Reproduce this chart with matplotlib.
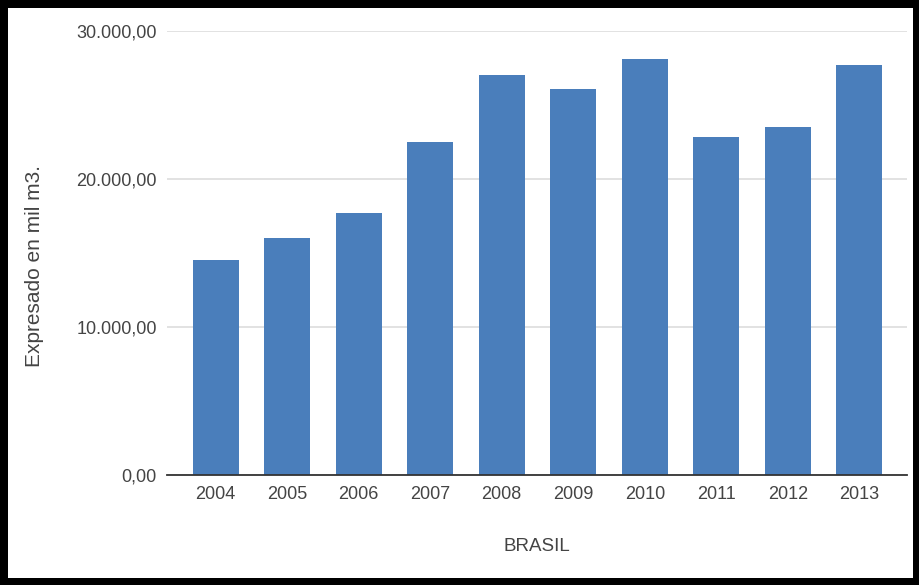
import matplotlib
matplotlib.use("Agg")
import matplotlib.pyplot as plt
from matplotlib.patches import Rectangle
from matplotlib.ticker import FuncFormatter

# Data (mil m3)
YEARS = ['2004', '2005', '2006', '2007', '2008', '2009', '2010', '2011', '2012', '2013']
VALUES = [14500, 16000, 17700, 22500, 27000, 26050, 28100, 22800, 23500, 27700]
Y_TICKS = [0, 10000, 20000, 30000]

BAR_COLOR = '#4a7ebb'
TEXT_COLOR = '#444444'

plt.rcParams['font.family'] = ['Liberation Sans', 'DejaVu Sans']


def fmt_es(v, _pos=None):
    # 30000 -> "30.000,00"
    s = f"{v:,.2f}"
    return s.replace(',', 'X').replace('.', ',').replace('X', '.')


def main():
    W, H = 920, 585
    fig = plt.figure(figsize=(W / 100, H / 100), dpi=100, facecolor='black')

    # white canvas inside the thick black frame
    fig.patches.append(Rectangle((8 / W, 7 / H), (913 - 8) / W, (578 - 8) / H,
                                 transform=fig.transFigure, facecolor='white',
                                 edgecolor='none', zorder=-1))

    left, right = 166.7, 906.7
    top, bottom = 31.0, 474.7
    ax = fig.add_axes([left / W, 1 - bottom / H, (right - left) / W, (bottom - top) / H])
    ax.set_facecolor('none')

    xs = list(range(len(YEARS)))
    ax.bar(xs, VALUES, width=0.645, color=BAR_COLOR, zorder=3)

    ax.set_xlim(-0.685, 9.663)
    ax.set_ylim(0, 30000)
    ax.set_yticks(Y_TICKS)
    ax.yaxis.set_major_formatter(FuncFormatter(fmt_es))
    ax.set_xticks(xs)
    ax.set_xticklabels(YEARS)

    ax.grid(axis='y', color='#e2e2e2', linewidth=1.4, zorder=0)
    for side in ['top', 'right', 'left']:
        ax.spines[side].set_visible(False)
    ax.spines['bottom'].set_color('#333333')
    ax.spines['bottom'].set_linewidth(1.3)
    ax.spines['bottom'].set_zorder(4)

    ax.tick_params(axis='both', length=0, labelsize=13, colors=TEXT_COLOR)
    ax.tick_params(axis='y', pad=7)
    ax.tick_params(axis='x', pad=8)

    ax.set_ylabel('Expresado en mil m3.', fontsize=15, color=TEXT_COLOR)
    ax.yaxis.set_label_coords(-0.166, 0.470)
    ax.set_xlabel('BRASIL', fontsize=13.5, color=TEXT_COLOR)
    ax.xaxis.set_label_coords(0.5, -0.143)

    fig.savefig('out.png', dpi=100, facecolor=fig.get_facecolor())
    plt.close(fig)


if __name__ == '__main__':
    main()
